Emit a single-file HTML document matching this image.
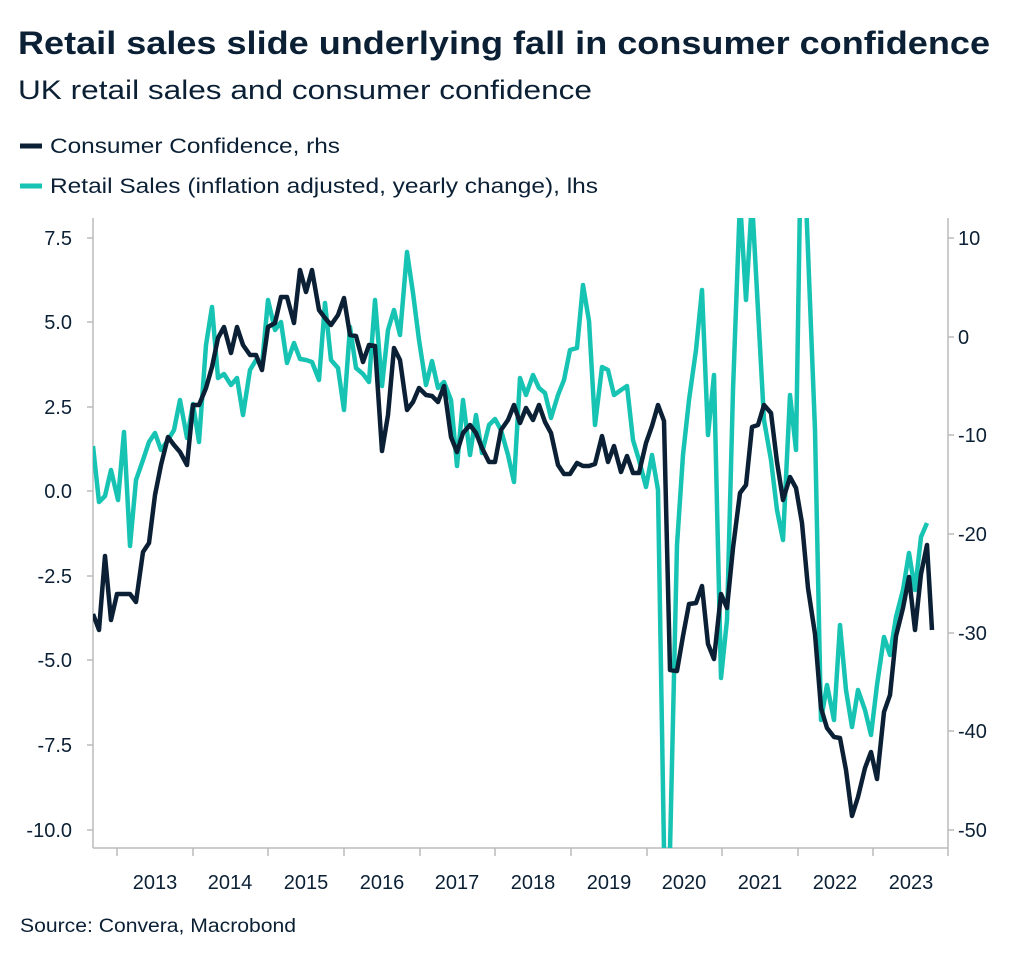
<!DOCTYPE html>
<html><head><meta charset="utf-8"><style>
body{margin:0;background:#fff;width:1024px;height:958px;overflow:hidden;font-family:"Liberation Sans",sans-serif;color:#0b2035}
</style></head><body>
<svg width="1024" height="958" xmlns="http://www.w3.org/2000/svg" font-family="Liberation Sans, sans-serif" fill="#0b2035">
<text x="18" y="54" font-size="32" font-weight="bold" textLength="972" lengthAdjust="spacingAndGlyphs">Retail sales slide underlying fall in consumer confidence</text>
<text x="18" y="99" font-size="27" textLength="574" lengthAdjust="spacingAndGlyphs">UK retail sales and consumer confidence</text>
<line x1="20" y1="146" x2="42" y2="146" stroke="#0b2035" stroke-width="5"/>
<text x="50" y="153" font-size="21" textLength="290" lengthAdjust="spacingAndGlyphs">Consumer Confidence, rhs</text>
<line x1="20" y1="186" x2="42" y2="186" stroke="#17c3b2" stroke-width="5"/>
<text x="50" y="193" font-size="21" textLength="548" lengthAdjust="spacingAndGlyphs">Retail Sales (inflation adjusted, yearly change), lhs</text>
<g stroke="#bbb" stroke-width="1.5" fill="none">
<line x1="93" y1="218" x2="93" y2="848"/><line x1="948" y1="218" x2="948" y2="848"/><line x1="93" y1="848" x2="948" y2="848"/>
<path d="M117 848v8M193 848v8M268 848v8M344 848v8M420 848v8M495 848v8M571 848v8M647 848v8M722 848v8M798 848v8M873 848v8M948 848v8"/>
<path d="M87 238h6M87 322h6M87 407h6M87 491h6M87 576h6M87 660h6M87 745h6M87 830h6"/>
<path d="M948 238h6M948 337h6M948 435h6M948 534h6M948 633h6M948 731h6M948 830h6"/>
</g>
<g font-size="20" text-anchor="end">
<text x="72" y="245">7.5</text><text x="72" y="329">5.0</text><text x="72" y="414">2.5</text><text x="72" y="498">0.0</text><text x="72" y="583">-2.5</text><text x="72" y="667">-5.0</text><text x="72" y="752">-7.5</text><text x="72" y="837">-10.0</text>
</g>
<g font-size="20">
<text x="958" y="245">10</text><text x="958" y="344">0</text><text x="958" y="442">-10</text><text x="958" y="541">-20</text><text x="958" y="640">-30</text><text x="958" y="738">-40</text><text x="958" y="837">-50</text>
</g>
<g font-size="20" text-anchor="middle">
<text x="155" y="889">2013</text><text x="230" y="889">2014</text><text x="306" y="889">2015</text><text x="382" y="889">2016</text><text x="457" y="889">2017</text><text x="533" y="889">2018</text><text x="609" y="889">2019</text><text x="684" y="889">2020</text><text x="760" y="889">2021</text><text x="835" y="889">2022</text><text x="911" y="889">2023</text>
</g>
<text x="20" y="932" font-size="19" textLength="276" lengthAdjust="spacingAndGlyphs">Source: Convera, Macrobond</text>
<defs><clipPath id="c"><rect x="93" y="218" width="855" height="630"/></clipPath></defs>
<g clip-path="url(#c)" fill="none" stroke-width="4.5" stroke-linejoin="round">
<polyline stroke="#17c3b2" points="93,446 99,502 105,496 111,470 118,500 124,432 130,546 136,480 143,460 149,442 155,433 161,450 168,440 174,430 180,400 187,438 193,404 199,442 206,345 212,307 218,378 224,374 231,385 237,378 243,415 250,370 256,360 262,365 268,300 275,330 281,322 287,363 294,343 300,359 306,360 312,362 319,380 325,303 331,360 338,368 344,410 350,327 356,368 363,374 369,382 375,300 382,386 388,330 394,310 400,335 407,252 413,293 419,340 426,385 432,361 438,388 444,382 451,400 457,466 463,400 470,455 476,415 482,453 489,425 495,419 501,430 508,455 514,482 520,378 526,395 533,375 539,388 545,393 551,418 558,395 564,380 570,350 577,348 583,285 589,321 595,425 602,367 608,370 614,395 621,390 627,386 633,440 639,460 646,487 652,455 658,490 664,850 670,850 677,545 683,455 689,400 696,350 702,290 708,435 714,375 721,678 727,620 733,390 740,200 746,300 752,200 758,310 764,420 771,460 777,510 783,540 790,395 796,450 800,200 806,200 815,430 821,720 827,685 834,720 840,625 846,690 852,727 858,690 865,710 871,735 877,685 884,637 890,655 896,617 903,590 909,553 915,590 921,537 927,523"/>
<polyline stroke="#0b2035" points="93,614 99,630 105,556 111,620 117,594 124,594 130,594 136,602 143,552 149,543 155,495 161,465 168,437 174,445 180,452 187,465 193,405 199,405 206,388 212,367 218,338 224,327 231,353 237,327 243,345 250,355 256,355 262,370 268,327 275,323 281,297 287,297 294,323 300,270 306,292 312,270 319,310 325,318 331,325 338,315 344,298 350,335 356,336 363,362 369,345 375,346 382,451 388,415 394,348 400,360 407,410 413,402 419,388 426,395 432,396 438,402 444,386 451,437 457,452 463,433 470,425 476,433 482,448 489,462 495,462 501,430 508,420 514,405 520,423 526,408 533,420 539,405 545,422 551,433 558,465 564,474 570,474 577,463 583,466 589,466 595,464 602,436 608,462 614,446 621,472 627,456 633,473 639,473 646,443 652,426 658,405 664,421 670,670 677,671 683,636 689,604 696,603 702,586 708,644 714,659 721,594 727,608 733,548 740,493 746,485 752,427 758,425 764,405 771,413 777,462 783,500 790,477 796,488 802,523 808,588 815,634 821,708 827,728 834,737 840,738 846,770 852,816 858,797 865,768 871,752 877,779 884,712 890,695 896,636 903,608 909,577 915,630 921,574 927,545 932,630"/>
</g>
</svg>
</body></html>
